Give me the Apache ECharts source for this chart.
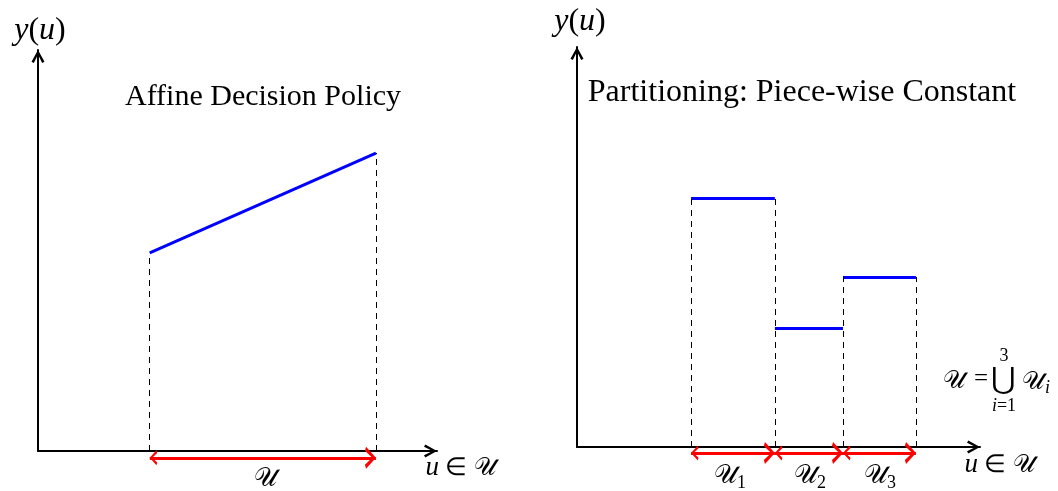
<!DOCTYPE html>
<html><head><meta charset="utf-8">
<script src="https://cdn.jsdelivr.net/npm/echarts@6/dist/echarts.min.js"></script>
<style>html,body{margin:0;padding:0;background:#fff}#c{width:1058px;height:491px}</style>
</head><body><div id="c"></div>
<script>
// ---- data ----
const affineU = [2.8, 8.47];          // u range of affine policy (left panel)
const affineY = [4.94, 7.43];         // y values at start/end
const partBounds = [2.83, 4.91, 6.60, 8.41];   // partition boundaries (right panel)
const partLevels = [6.23, 2.98, 4.25];         // constant value on each partition
const titles = ['Affine Decision Policy', 'Partitioning: Piece-wise Constant'];

const BLACK = '#000', BLUE = '#0000ff', RED = '#ff0000';
const FONT = 'Liberation Serif';
const SU = '\u{1D4B0}';
// chevron whose tip sits at the centre of its bounding box
const chev = 'path://M5,10 L10,19 L8.2,20 L5,13.4 L1.8,20 L0,19 Z M5,0 L5.01,0 L5,0.01 Z';

function axes(idx) {
  const line = {lineStyle:{color:BLACK,width:2}, symbol:['none',chev], symbolSize:[13,26]};
  return {
    x: {type:'value', gridIndex:idx, min:0, max:10, splitLine:{show:false},
        axisTick:{show:false}, axisLabel:{show:false}, axisLine:line},
    y: {type:'value', gridIndex:idx, min:0, max:10, splitLine:{show:false},
        axisTick:{show:false}, axisLabel:{show:false}, axisLine:line}
  };
}
const a0 = axes(0), a1 = axes(1);

const series = [];
series.push({type:'lines', coordinateSystem:'cartesian2d', xAxisIndex:0, yAxisIndex:0, clip:false,
  symbol:'none', lineStyle:{color:BLUE,width:3,opacity:1},
  data:[{coords:[[affineU[0],affineY[0]],[affineU[1],affineY[1]]]}]});
series.push({type:'lines', coordinateSystem:'cartesian2d', xAxisIndex:0, yAxisIndex:0, clip:false,
  symbol:'none', lineStyle:{color:BLACK,width:1,type:[6,5],opacity:1},
  data:affineU.map((u,i)=>({coords:[[u,0],[u,affineY[i]]]}))});
series.push({type:'lines', coordinateSystem:'cartesian2d', xAxisIndex:0, yAxisIndex:0, clip:false,
  symbol:[chev,chev], symbolSize:[15,22], lineStyle:{color:RED,width:3,opacity:1},
  data:[{coords:[[affineU[0],-0.17],[affineU[1],-0.17]]}]});

series.push({type:'lines', coordinateSystem:'cartesian2d', xAxisIndex:1, yAxisIndex:1, clip:false,
  symbol:'none', lineStyle:{color:BLUE,width:3,opacity:1},
  data:partLevels.map((v,i)=>({coords:[[partBounds[i],v],[partBounds[i+1],v]]}))});
series.push({type:'lines', coordinateSystem:'cartesian2d', xAxisIndex:1, yAxisIndex:1, clip:false,
  symbol:'none', lineStyle:{color:BLACK,width:1,type:[6,5],opacity:1},
  data:partBounds.map((b,i)=>{
    const h = Math.max(i>0?partLevels[i-1]:0, i<partLevels.length?partLevels[i]:0);
    return {coords:[[b,0],[b,h]]};
  })});
series.push({type:'lines', coordinateSystem:'cartesian2d', xAxisIndex:1, yAxisIndex:1, clip:false,
  symbol:[chev,chev], symbolSize:[15,22], lineStyle:{color:RED,width:3,opacity:1},
  data:partLevels.map((v,i)=>({coords:[[partBounds[i],-0.15],[partBounds[i+1],-0.15]]}))});

const rich = {
  i:{fontFamily:FONT,fontStyle:'italic',fontSize:32,color:BLACK},
  n:{fontFamily:FONT,fontSize:32,color:BLACK},
  si:{fontFamily:FONT,fontStyle:'italic',fontSize:27,color:BLACK},
  sn:{fontFamily:FONT,fontSize:25,color:BLACK},
  s:{fontFamily:FONT,fontSize:25,color:BLACK},
  rs:{fontFamily:FONT,fontSize:26,color:RED},
  rsub:{fontFamily:FONT,fontSize:18,color:RED,padding:[14,0,0,0]},
  isub:{fontFamily:FONT,fontStyle:'italic',fontSize:18,color:BLACK,padding:[12,0,0,0]},
  ti:{fontFamily:FONT,fontStyle:'italic',fontSize:18,color:BLACK},
  tn:{fontFamily:FONT,fontSize:18,color:BLACK}
};
function txt(x,y,text,extra){
  return {type:'text', x:x, y:y, style:Object.assign({text:text, rich:rich,
    fontFamily:FONT, fontSize:28, fill:BLACK, align:'center', verticalAlign:'middle'}, extra||{})};
}
const graphic = [
  txt(40,31,'{i|y}{n|(}{i|u}{n|)}'),
  txt(580,22,'{i|y}{n|(}{i|u}{n|)}'),
  txt(263,97,titles[0],{fontSize:30}),
  txt(802,93,titles[1],{fontSize:32}),
  txt(265,479,'{rs|'+SU+'}'),
  txt(461,468,'{si|u}{sn| ∈ }{s|'+SU+'}'),
  txt(1000,465,'{si|u}{sn| ∈ }{s|'+SU+'}'),
  txt(730,476,'{rs|'+SU+'}{rsub|1}'),
  txt(810,476,'{rs|'+SU+'}{rsub|2}'),
  txt(880,476,'{rs|'+SU+'}{rsub|3}'),
  txt(954,381,'{s|'+SU+'}'),
  txt(981,379,'=',{fontSize:25}),
  txt(1003,381,'⋃',{fontSize:30}),
  txt(1004,356,'3',{fontSize:18}),
  txt(1004,406,'{ti|i}{tn|=1}'),
  txt(1036,382,'{s|'+SU+'}{isub|i}')
];

const chart = echarts.init(document.getElementById('c'));
chart.setOption({
  animation:false,
  backgroundColor:'#fff',
  grid:[{left:38,top:50,width:399,height:401},{left:577,top:47,width:403,height:400}],
  xAxis:[a0.x,a1.x], yAxis:[a0.y,a1.y],
  series:series,
  graphic:graphic
});
</script></body></html>
